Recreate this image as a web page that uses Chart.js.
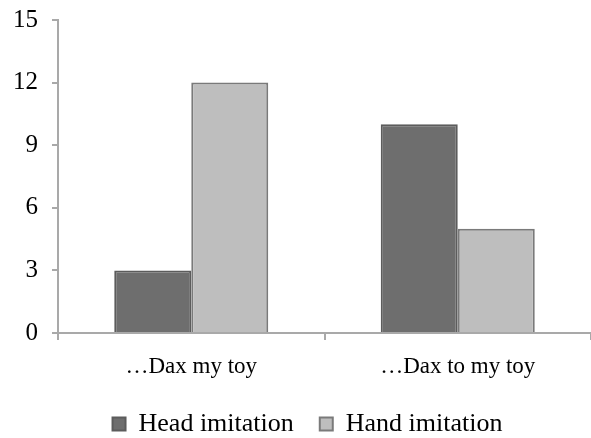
<!DOCTYPE html>
<html>
<head>
<meta charset="utf-8">
<script src="https://cdn.jsdelivr.net/npm/chart.js@4"></script>
<style>
  html, body { margin: 0; padding: 0; background: #fff; }
  #wrap { width: 591px; height: 438px; }
</style>
</head>
<body>
<div id="wrap"><canvas id="chart"></canvas></div>
<script>
const categories = ['\u2026Dax my toy', '\u2026Dax to my toy'];
const headImitation = [3, 10];
const handImitation = [12, 5];
const yTicks = [0, 3, 6, 9, 12, 15];

const serif = '"Liberation Serif", "Times New Roman", serif';
const axisColor = '#a9a9a9';

// legend: fixed height and a small nudge right, like the original
const legendTweak = {
    id: 'legendTweak',
    beforeInit(chart) {
        const legend = chart.legend;
        const fit = legend.fit;
        legend.fit = function () {
            fit.call(this);
            this.height = 53;
        };
    },
    afterLayout(chart) {
        chart.legend.left += 12;
        chart.legend.right += 12;
    }
};

const config = {
    type: 'bar',
    data: {
        labels: categories,
        datasets: [{
            label: 'Head imitation',
            data: headImitation,
            backgroundColor: '#6e6e6e',
            borderColor: '#5c5c5c',
            borderWidth: 2,
            borderSkipped: 'bottom'
        }, {
            label: 'Hand imitation',
            data: handImitation,
            backgroundColor: '#bebebe',
            borderColor: '#7a7a7a',
            borderWidth: 2,
            borderSkipped: 'bottom'
        }]
    },
    options: {
        responsive: true,
        maintainAspectRatio: false,
        animation: false,
        layout: {
            padding: { top: 20, right: 0, bottom: 0, left: 0 }
        },
        datasets: {
            bar: { barPercentage: 1, categoryPercentage: 0.578 }
        },
        scales: {
            x: {
                border: { color: axisColor, width: 2 },
                grid: { color: axisColor, lineWidth: 2, drawOnChartArea: false, tickLength: 7 },
                ticks: { color: '#000', font: { family: serif, size: 23 }, padding: 13 },
                afterFit: (scale) => { scale.height = 52; }
            },
            y: {
                min: 0,
                max: 15,
                afterBuildTicks: (scale) => { scale.ticks = yTicks.map(v => ({ value: v })); },
                border: { color: axisColor, width: 2 },
                grid: { color: axisColor, lineWidth: 2, drawOnChartArea: false, tickLength: 6 },
                ticks: { color: '#000', font: { family: serif, size: 25 }, padding: 14 },
                afterFit: (scale) => {
                    scale.width = 58;
                    scale.paddingTop = 0;
                    scale.paddingBottom = 0;
                }
            }
        },
        plugins: {
            legend: {
                position: 'bottom',
                labels: {
                    color: '#000',
                    font: { family: serif, size: 26 },
                    boxWidth: 13,
                    boxHeight: 13,
                    padding: 26
                }
            },
            tooltip: { enabled: false }
        }
    },
    plugins: [legendTweak]
};

window.onload = () => {
    let ctx = document.getElementById('chart').getContext('2d');
    window.myChart = new Chart(ctx, config);
};
</script>
</body>
</html>
